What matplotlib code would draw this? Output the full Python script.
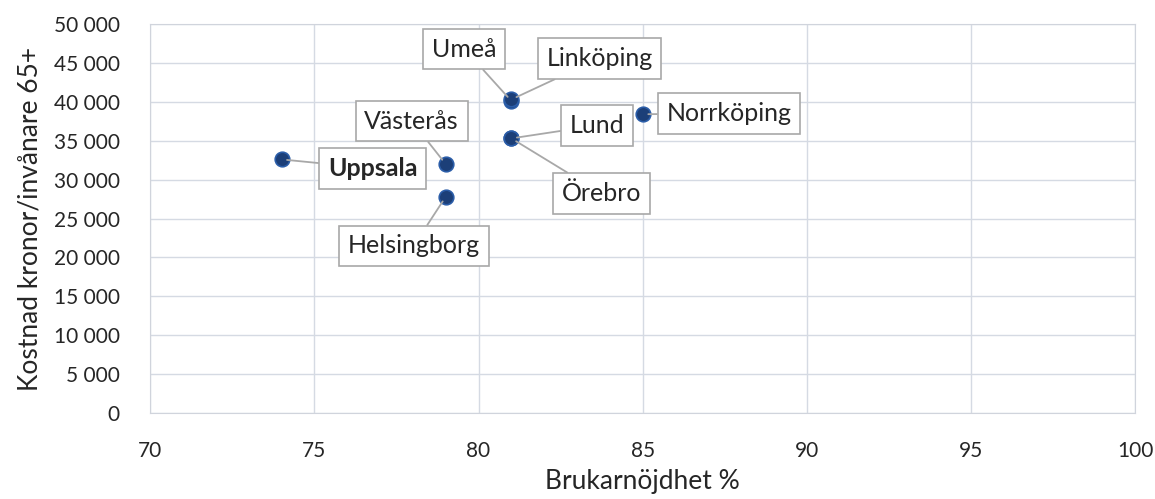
import matplotlib.pyplot as plt
from matplotlib.ticker import FuncFormatter

plt.rcParams['font.family'] = ['Lato', 'DejaVu Sans']

cities = ['Uppsala', 'Västerås', 'Helsingborg', 'Umeå', 'Linköping', 'Lund', 'Örebro', 'Norrköping']
nojdhet = [74, 79, 79, 81, 81, 81, 81, 85]
kostnad = [32600, 32000, 27800, 40100, 40300, 35300, 35300, 38400]

# label offsets in pixels from each point
offsets = [(91, -9), (-34, 43), (-32, -49), (-47, 52), (88, 41), (86, 13), (90, -55), (86, 1)]

fig = plt.figure(figsize=(11.55, 4.99), dpi=100)
ax = fig.add_axes([0.130, 0.172, 0.853, 0.780])

ax.scatter(nojdhet, kostnad, s=110, color='#1c3f78', edgecolors='#2b5da8', linewidths=1.2, zorder=3)

for name, x, y, off in zip(cities, nojdhet, kostnad, offsets):
    ax.annotate(name, (x, y), xytext=off, textcoords='offset pixels',
                ha='center', va='center', fontsize=18, color='#262626',
                fontweight='bold' if name == 'Uppsala' else 'normal',
                bbox=dict(boxstyle='square,pad=0.35', fc='white', ec='#a8a8a8', lw=1.2),
                arrowprops=dict(arrowstyle='-', color='#a8a8a8', lw=1.3, shrinkA=0, shrinkB=4),
                zorder=4)

ax.set_xlim(70, 100)
ax.set_ylim(0, 50000)
ax.set_xticks(range(70, 101, 5))
ax.set_yticks(range(0, 50001, 5000))
ax.yaxis.set_major_formatter(FuncFormatter(lambda v, p: f'{int(v):,}'.replace(',', ' ')))
ax.tick_params(length=0, labelsize=15, colors='#262626')
ax.tick_params(axis='x', pad=20)
ax.tick_params(axis='y', pad=22)
ax.grid(True, color='#d5dae3', lw=1)
ax.set_axisbelow(True)
for s in ax.spines.values():
    s.set_color('#d0d4dc')

ax.set_xlabel('Brukarnöjdhet %', fontsize=19, color='#262626', labelpad=6)
ax.set_ylabel('Kostnad kronor/invånare 65+', fontsize=19, color='#262626', labelpad=8)

fig.savefig('out.png', dpi=100)
